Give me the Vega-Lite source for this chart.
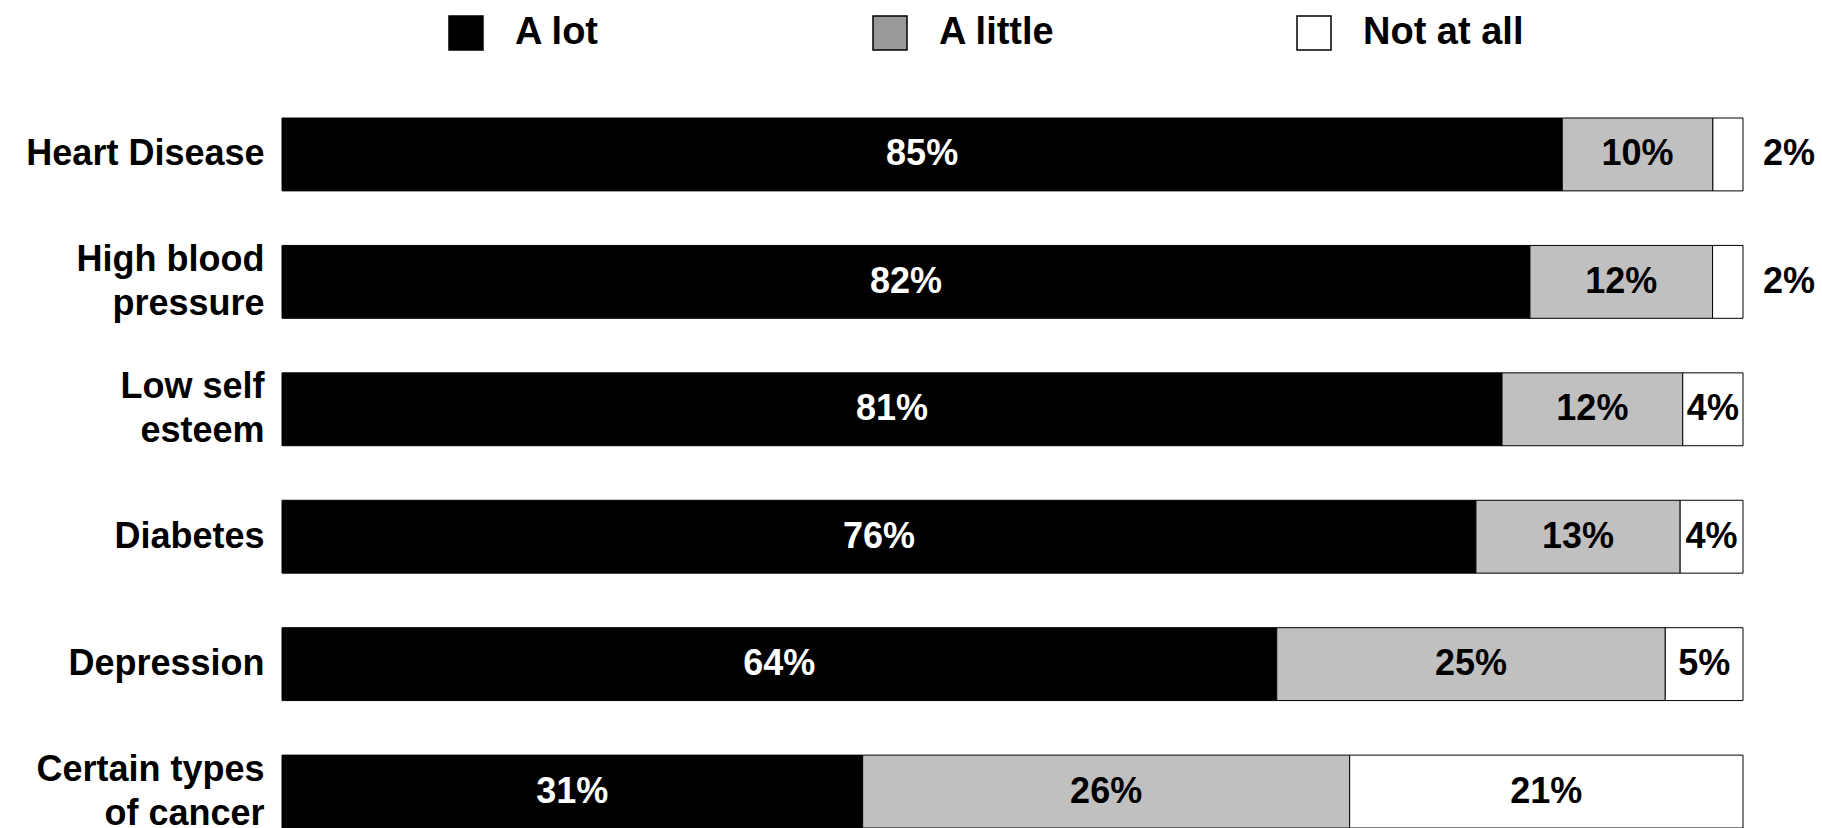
{
  "$schema": "https://vega.github.io/schema/vega-lite/v6.json",
  "width": 1461,
  "height": 710,
  "autosize": {"type": "none"},
  "padding": {"left": 282, "top": 118, "right": 79, "bottom": 0},
  "background": "white",
  "config": {"view": {"stroke": null}, "font": "Liberation Sans"},
  "data": {
    "values": [
      {"cause": "Heart Disease", "level": "A lot", "pct": 85},
      {"cause": "Heart Disease", "level": "A little", "pct": 10},
      {"cause": "Heart Disease", "level": "Not at all", "pct": 2},
      {"cause": "High blood\npressure", "level": "A lot", "pct": 82},
      {"cause": "High blood\npressure", "level": "A little", "pct": 12},
      {"cause": "High blood\npressure", "level": "Not at all", "pct": 2},
      {"cause": "Low self\nesteem", "level": "A lot", "pct": 81},
      {"cause": "Low self\nesteem", "level": "A little", "pct": 12},
      {"cause": "Low self\nesteem", "level": "Not at all", "pct": 4},
      {"cause": "Diabetes", "level": "A lot", "pct": 76},
      {"cause": "Diabetes", "level": "A little", "pct": 13},
      {"cause": "Diabetes", "level": "Not at all", "pct": 4},
      {"cause": "Depression", "level": "A lot", "pct": 64},
      {"cause": "Depression", "level": "A little", "pct": 25},
      {"cause": "Depression", "level": "Not at all", "pct": 5},
      {"cause": "Certain types\nof cancer", "level": "A lot", "pct": 31},
      {"cause": "Certain types\nof cancer", "level": "A little", "pct": 26},
      {"cause": "Certain types\nof cancer", "level": "Not at all", "pct": 21}
    ]
  },
  "transform": [
    {"calculate": "indexof(['A lot','A little','Not at all'], datum.level)", "as": "ord"},
    {"stack": "pct", "groupby": ["cause"], "sort": [{"field": "ord", "order": "ascending"}], "offset": "normalize", "as": ["x0", "x1"]},
    {"calculate": "(datum.x0 + datum.x1) / 2", "as": "xm"},
    {"calculate": "datum.pct + '%'", "as": "lbl"}
  ],
  "encoding": {
    "y": {
      "field": "cause",
      "type": "nominal",
      "sort": ["Heart Disease", "High blood\npressure", "Low self\nesteem", "Diabetes", "Depression", "Certain types\nof cancer"],
      "scale": {"paddingInner": 0.428, "paddingOuter": 0},
      "axis": {
        "title": null,
        "domain": false,
        "ticks": false,
        "tickSize": 0,
        "grid": false,
        "labelPadding": 18,
        "labelOffset": {"condition": {"test": "indexof(datum.value, '\\n') >= 0", "value": -22}, "value": 0},
        "labelFont": "Liberation Sans",
        "labelFontSize": 36,
        "labelFontWeight": "bold",
        "labelColor": "black",
        "labelLineHeight": 44,
        "labelLimit": 400,
        "labelExpr": "split(datum.value, '\\n')"
      }
    }
  },
  "resolve": {"scale": {"color": "independent"}, "legend": {"color": "independent"}},
  "layer": [
    {
      "mark": {"type": "bar", "stroke": "black", "strokeWidth": 1},
      "encoding": {
        "x": {"field": "x0", "type": "quantitative", "scale": {"domain": [0, 1], "nice": false, "zero": true}, "axis": null},
        "x2": {"field": "x1"},
        "color": {
          "field": "level",
          "type": "nominal",
          "scale": {"domain": ["A lot", "A little", "Not at all"], "range": ["#000000", "#c0c0c0", "#ffffff"]},
          "legend": null
        }
      }
    },
    {
      "transform": [{"filter": "datum.pct >= 3"}],
      "mark": {"type": "text", "fontSize": 36, "fontWeight": "bold", "font": "Liberation Sans", "baseline": "middle", "align": "center"},
      "encoding": {
        "x": {"field": "xm", "type": "quantitative"},
        "text": {"field": "lbl"},
        "color": {"condition": {"test": "datum.level === 'A lot'", "value": "white"}, "value": "black"}
      }
    },
    {
      "transform": [{"filter": "datum.pct < 3"}],
      "mark": {"type": "text", "fontSize": 36, "fontWeight": "bold", "font": "Liberation Sans", "baseline": "middle", "align": "center", "dx": 46, "color": "black"},
      "encoding": {
        "x": {"field": "x1", "type": "quantitative"},
        "text": {"field": "lbl"}
      }
    },
    {
      "mark": {"type": "square", "size": 0, "filled": true, "opacity": 1, "stroke": "black", "strokeWidth": 1.5},
      "encoding": {
        "x": {"field": "x0", "type": "quantitative"},
        "color": {
          "field": "level",
          "type": "nominal",
          "scale": {"domain": ["A lot", "A little", "Not at all"], "range": ["#000000", "#999999", "#ffffff"]},
          "legend": {
            "orient": "none",
            "legendX": 165,
            "legendY": -104,
            "direction": "horizontal",
            "columns": 3,
            "gridAlign": "all",
            "columnPadding": 194,
            "title": null,
            "symbolType": "square",
            "symbolSize": 1156,
            "symbolOpacity": 1,
            "symbolStrokeColor": "black",
            "symbolStrokeWidth": 1.5,
            "labelFont": "Liberation Sans",
            "labelFontSize": 38,
            "labelFontWeight": "bold",
            "labelColor": "black",
            "labelOffset": 30,
            "labelLimit": 400,
            "padding": 0,
            "symbolOffset": 0
          }
        }
      }
    }
  ]
}
